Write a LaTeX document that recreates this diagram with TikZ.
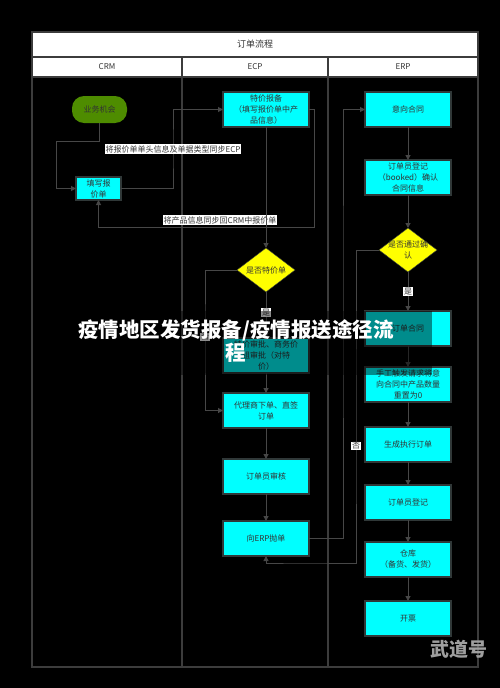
\documentclass[tikz,border=0pt]{standalone}
\usepackage{fontspec}
\setmainfont{Noto Sans CJK SC}
\usepackage{tikz}
\usetikzlibrary{shapes, positioning, arrows.meta}
\definecolor{boxcyan}{HTML}{00FFFF}
\definecolor{boxline}{HTML}{303838}
\definecolor{txt}{HTML}{333333}
\definecolor{lane}{HTML}{3C3C3C}
\definecolor{wire}{HTML}{474747}
\definecolor{chancegreen}{HTML}{4E8C00}
\definecolor{asky}{HTML}{FFFF00}

\begin{document}
\begin{tikzpicture}[x=1pt, y=-1pt, ->, >={Triangle[length=5pt,width=5pt]}, font=\fontsize{8}{11}\selectfont]
\tikzstyle{process}=[draw=boxline, fill=boxcyan, line width=1.2pt, text=txt, minimum width=86pt, minimum height=35pt, inner sep=1pt, outer sep=0pt, align=center]
\tikzstyle{decision}=[draw=boxline, fill=asky, diamond, minimum width=58pt, minimum height=44pt, inner sep=0pt, outer sep=0pt]
\tikzstyle{flow}=[draw=wire, line width=1pt]
\tikzstyle{tag}=[fill=white, text=txt, inner sep=1pt, font=\fontsize{8}{9}\selectfont]
\tikzstyle{frame}=[draw=lane, line width=1.2pt, -]

% background and swimlanes
\useasboundingbox (0,0) rectangle (500,688);
\fill[black] (0,0) rectangle (500,688);
\filldraw[frame, fill=white] (32,32) rectangle (478,77);
\draw[frame] (32,57) -- (478,57);
\draw[frame] (32,77) rectangle (478,667);
\draw[frame] (182,57) -- (182,667);
\draw[frame] (328,57) -- (328,667);
\node[text=txt, font=\fontsize{9}{11}\selectfont] (title) at (255,44.5) {订单流程};
\node[text=txt] (crm) at (107,67) {CRM};
\node[text=txt] (ecp) at (255,67) {ECP};
\node[text=txt] (erp) at (403,67) {ERP};

% CRM
\node[draw=none, fill=chancegreen, rounded corners=12pt, minimum width=55pt, minimum height=27pt, text=txt] (chance) at (99.5,109.5) {业务机会};
\node[process, minimum width=45pt, minimum height=23pt] (quote) at (98.5,188.5) {填写报\\价单};

% ECP
\node[process] (special) at (266,109.5) {特价报备\\（填写报价单中产\\品信息）};
\node[decision, below=121pt of special, label={[align=center, text=txt]center:是否特价单}] (isspecial) {};
\node[process, below=46pt of isspecial] (approve) {特价审批、商务价\\组审批（对特\\价）};
\node[process, below=20pt of approve] (agent) {代理商下单、直签\\订单};
\node[process, below=31pt of agent] (audit) {订单员审核};
\node[process, below=27pt of audit] (push) {向ERP抛单};

% ERP
\node[process] (intent) at (408,109.5) {意向合同};
\node[process, below=33pt of intent] (booked) {订单员登记\\（booked）确认\\合同信息};
\node[decision, below=33pt of booked, label={[align=center, text=txt]center:是否通过确\\认}] (confirm) {};
\node[process, below=39pt of confirm] (contract) {订单合同};
\node[process, below=21pt of contract] (reset) {手工触发请求将意\\向合同中产品数量\\重置为0};
\node[process, below=25pt of reset] (generate) {生成执行订单};
\node[process, below=23pt of generate] (register) {订单员登记};
\node[process, below=22pt of register] (store) {仓库\\（备货、发货）};
\node[process, below=24pt of store] (invoice) {开票};

% bends
\coordinate (c1) at (56,141);
\coordinate (c2) at (173,149);
\coordinate (c3) at (314,227);
\coordinate (c5) at (205,337);
\coordinate (c8) at (343,300);
\coordinate (c11) at (356,446);
\coordinate (c12) at (300,563);

\draw[flow] (chance.south) |- (c1) |- (quote.west);
\draw[flow] (quote.east) -| (c2) node[tag]{将报价单单头信息及单据类型同步ECP} |- (special.west);
\draw[flow] (special.east) -| (c3) -| (quote.south);
\node[tag] (back) at (220,220) {将产品信息同步回CRM中报价单};

\path
(special) edge[flow] (isspecial)
(isspecial) edge[flow] node[tag, pos=0.45]{是} (approve)
(approve) edge[flow] (agent)
(agent) edge[flow] (audit)
(audit) edge[flow] (push);
\draw[flow] (isspecial.west) -| (c5) node[tag]{否} |- (agent.west);
\draw[flow] (push.east) -| (c8) |- (intent.west);

\path
(intent) edge[flow] (booked)
(booked) edge[flow] (confirm)
(confirm) edge[flow] node[tag]{是} (contract)
(contract) edge[flow] (reset)
(reset) edge[flow] (generate)
(generate) edge[flow] (register)
(register) edge[flow] (store)
(store) edge[flow] (invoice);
\draw[flow] (confirm.west) -| (c11) node[tag]{否} |- (c12) -| (push.south);

% overlay caption
\fill[black, opacity=0.45] (45,311) rectangle (432,375);
\node[text=white, align=center, font=\bfseries\fontsize{20.5}{23}\selectfont] (caption) at (236,341.5) {疫情地区发货报备/疫情报送途径流\\程};
\node[text=gray!75, font=\bfseries\fontsize{19}{20}\selectfont] (mark) at (459,649) {武道号};
\end{tikzpicture}
\end{document}
